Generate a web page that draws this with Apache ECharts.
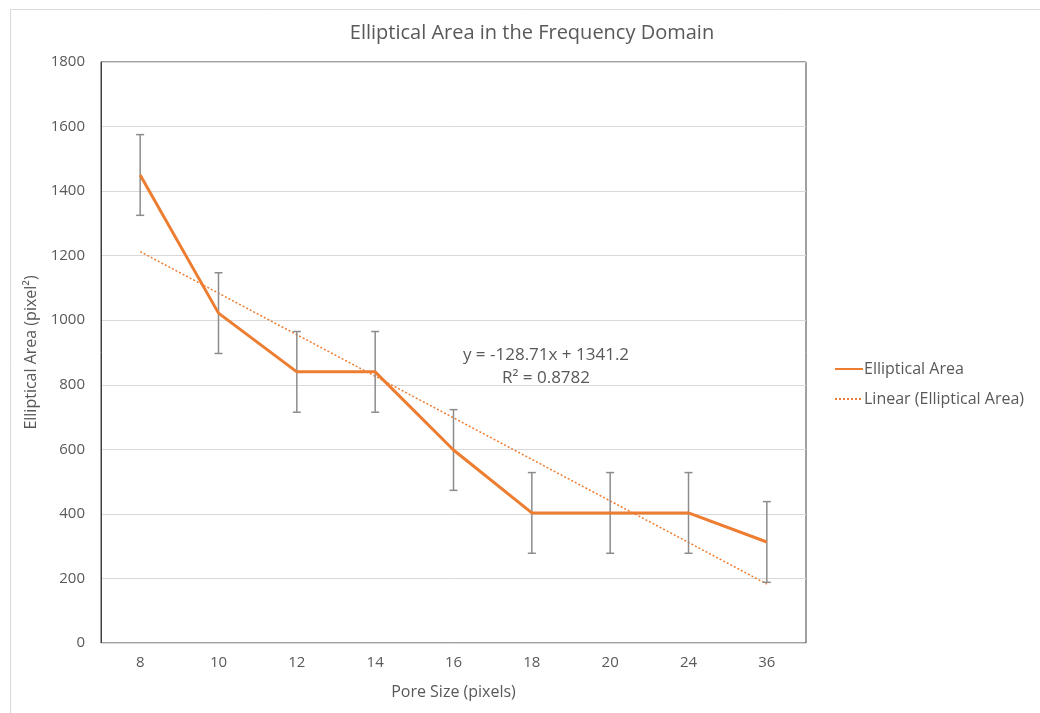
<!DOCTYPE html>
<html>
<head>
<meta charset="utf-8">
<script src="https://cdn.jsdelivr.net/npm/echarts@6/dist/echarts.min.js"></script>
<style>html,body{margin:0;padding:0;background:#fff}#c{width:1040px;height:713px}</style>
</head>
<body>
<div id="c"></div>
<script>
const categories = ['8','10','12','14','16','18','20','24','36'];
const areaValues = [1450, 1022, 840, 840, 598, 403, 403, 403, 313];
const errorAmount = [125, 125, 125, 125, 125, 125, 125, 125, 125];
const trendValues = [1212.5, 1083.8, 955.1, 826.4, 697.6, 568.9, 440.2, 311.5, 182.8];
const yTicks = [0, 200, 400, 600, 800, 1000, 1200, 1400, 1600, 1800];

const errData = areaValues.map((v, i) => [i, v - errorAmount[i], v + errorAmount[i]]);
const txt = '#595959';
const font = '"Open Sans", "Noto Sans", sans-serif';

const chart = echarts.init(document.getElementById('c'));
chart.setOption({
  animation: false,
  textStyle: { fontFamily: font },
  title: {
    text: 'Elliptical Area in the Frequency Domain',
    left: 527, textAlign: 'center', top: 18,
    textStyle: { fontSize: 20, fontWeight: 'normal', color: txt, fontFamily: font }
  },
  grid: { left: 101, right: 234, top: 62, bottom: 70, show: true, borderColor: '#404040', borderWidth: 1, backgroundColor: 'transparent' },
  legend: {
    orient: 'vertical', left: 829, top: 356, itemGap: 14, itemWidth: 28, itemHeight: 10,
    itemStyle: { opacity: 0 },
    textStyle: { fontSize: 16, color: txt, fontFamily: font, padding: [0, 0, 0, -4] },
    data: ['Elliptical Area', 'Linear (Elliptical Area)']
  },
  xAxis: {
    type: 'category', data: categories, boundaryGap: true,
    name: 'Pore Size (pixels)', nameLocation: 'middle', nameGap: 41,
    nameTextStyle: { fontSize: 16, color: txt },
    axisLine: { lineStyle: { color: '#d9d9d9' } },
    axisTick: { show: false },
    axisLabel: { fontSize: 15, color: txt, margin: 12 }
  },
  yAxis: {
    type: 'value', min: 0, max: 1800, interval: 200,
    name: 'Elliptical Area (pixel²)', nameLocation: 'middle', nameGap: 56,
    nameTextStyle: { fontSize: 16, color: txt },
    axisLine: { show: true, lineStyle: { color: '#404040' } },
    axisTick: { show: false },
    axisLabel: { fontSize: 15, color: txt, margin: 16, formatter: v => yTicks.includes(v) ? String(v) : '' },
    splitLine: { lineStyle: { color: '#d9d9d9' } }
  },
  series: [
    {
      name: 'Linear (Elliptical Area)', type: 'line', data: trendValues, symbol: 'none',
      lineStyle: { color: '#ED7D31', width: 1.5, type: [2, 2] }, itemStyle: { color: '#ED7D31' }, z: 3
    },
    {
      name: 'errors', type: 'custom', data: errData, z: 4,
      renderItem: function (params, api) {
        const x = api.value(0);
        const lo = api.coord([x, api.value(1)]);
        const hi = api.coord([x, api.value(2)]);
        const c = 4;
        const st = { stroke: '#8c8c8c', lineWidth: 1.5 };
        return { type: 'group', children: [
          { type: 'line', shape: { x1: lo[0], y1: lo[1], x2: hi[0], y2: hi[1] }, style: st },
          { type: 'line', shape: { x1: lo[0] - c, y1: lo[1], x2: lo[0] + c, y2: lo[1] }, style: st },
          { type: 'line', shape: { x1: hi[0] - c, y1: hi[1], x2: hi[0] + c, y2: hi[1] }, style: st }
        ]};
      }
    },
    {
      name: 'Elliptical Area', type: 'line', data: areaValues, symbol: 'none',
      lineStyle: { color: '#ED7D31', width: 3 }, itemStyle: { color: '#ED7D31' }, z: 5
    }
  ],
  graphic: [
    { type: 'rect', left: 8, top: 7, shape: { width: 1060, height: 720 }, style: { fill: 'none', stroke: '#d9d9d9', lineWidth: 1 }, silent: true },
    { type: 'text', style: { text: 'y = -128.71x + 1341.2', x: 546, y: 355, textAlign: 'center', textVerticalAlign: 'middle', fontSize: 17, fill: txt, fontFamily: font } },
    { type: 'text', style: { text: 'R² = 0.8782', x: 546, y: 378, textAlign: 'center', textVerticalAlign: 'middle', fontSize: 17, fill: txt, fontFamily: font } }
  ]
});
</script>
</body>
</html>
